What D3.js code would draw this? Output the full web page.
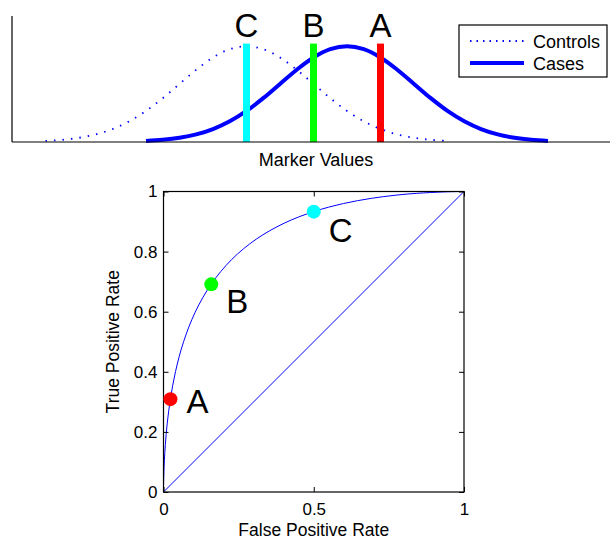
<!DOCTYPE html>
<html>
<head>
<meta charset="utf-8">
<script src="https://cdn.jsdelivr.net/npm/d3@7"></script>
<style>
body { margin: 0; background: #fff; }
svg { font-family: "Liberation Sans", Arial, Helvetica, sans-serif; }
</style>
</head>
<body>
<div id="vis"></div>
<script>
'use strict';

//marker value distributions
var controlsX = [-3, -2.75, -2.5, -2.25, -2, -1.75, -1.5, -1.25, -1, -0.75, -0.5, -0.25, 0,
    0.25, 0.5, 0.75, 1, 1.25, 1.5, 1.75, 2, 2.25, 2.5, 2.75, 3];
var controlsDensity = [0.0044, 0.0091, 0.0175, 0.0317, 0.054, 0.0863, 0.1295, 0.1826, 0.242, 0.3011, 0.3521, 0.3867, 0.3989,
    0.3867, 0.3521, 0.3011, 0.242, 0.1826, 0.1295, 0.0863, 0.054, 0.0317, 0.0175, 0.0091, 0.0044];
var casesX = [-1.5, -1.25, -1, -0.75, -0.5, -0.25, 0, 0.25, 0.5, 0.75, 1, 1.25, 1.5,
    1.75, 2, 2.25, 2.5, 2.75, 3, 3.25, 3.5, 3.75, 4, 4.25, 4.5];
var casesDensity = [0.0044, 0.0091, 0.0175, 0.0317, 0.054, 0.0863, 0.1295, 0.1826, 0.242, 0.3011, 0.3521, 0.3867, 0.3989,
    0.3867, 0.3521, 0.3011, 0.242, 0.1826, 0.1295, 0.0863, 0.054, 0.0317, 0.0175, 0.0091, 0.0044];

//cut-off markers
var markerNames = ['A', 'B', 'C'];
var markerThresholds = [2, 1, 0];
var markerColors = ['#ff0000', '#00ff00', '#00ffff'];
var markerFpr = [0.023, 0.159, 0.5];
var markerTpr = [0.309, 0.691, 0.933];

//roc curve
var rocFpr = [0, 0, 0.00003, 0.0002, 0.0006, 0.0013, 0.003, 0.0062, 0.0122, 0.0228, 0.0401, 0.0668, 0.1056,
    0.1587, 0.2266, 0.3085, 0.4013, 0.5, 0.5987, 0.6915, 0.7734, 0.8413, 0.9332, 0.9772, 0.9987, 1];
var rocTpr = [0, 0.0013, 0.0062, 0.0228, 0.0401, 0.0668, 0.1056, 0.1587, 0.2266, 0.3085, 0.4013, 0.5, 0.5987,
    0.6915, 0.7734, 0.8413, 0.8944, 0.9332, 0.9599, 0.9772, 0.9878, 0.9938, 0.99865, 0.99977, 1, 1];
var rocTicksX = [0, 0.5, 1];
var rocTicksY = [0, 0.2, 0.4, 0.6, 0.8, 1];

var legendNames = ['Controls', 'Cases'];

var svg = d3.select('#vis').append('svg')
    .attr('width', 610)
    .attr('height', 542);

//---- top panel: distributions
var dist = { left: 12, right: 620, top: 16, bottom: 142 };
var x = d3.scaleLinear().domain([-3.5, 5.5]).range([dist.left, dist.left + 603]);
var y = d3.scaleLinear().domain([0, 0.525]).range([dist.bottom, dist.top]);

var curve = d3.line()
    .x(function (d) { return x(d[0]); })
    .y(function (d) { return y(d[1]); })
    .curve(d3.curveCatmullRom);

svg.append('path')
    .datum(d3.zip(controlsX, controlsDensity))
    .attr('d', curve)
    .attr('fill', 'none')
    .attr('stroke', '#0000ff')
    .attr('stroke-width', 1.8)
    .attr('stroke-dasharray', '1.5 7');

svg.append('path')
    .datum(d3.zip(casesX, casesDensity))
    .attr('d', curve)
    .attr('fill', 'none')
    .attr('stroke', '#0000ff')
    .attr('stroke-width', 4);

//vertical cut-off bars and their letters
markerNames.forEach(function (name, i) {
    svg.append('line')
        .attr('x1', x(markerThresholds[i]))
        .attr('x2', x(markerThresholds[i]))
        .attr('y1', y(0))
        .attr('y2', y(0.41))
        .attr('stroke', markerColors[i])
        .attr('stroke-width', 7);
    svg.append('text')
        .text(name)
        .attr('x', x(markerThresholds[i]))
        .attr('y', 37)
        .attr('text-anchor', 'middle')
        .style('font-size', '33px');
});

//axis lines (no ticks on this panel)
svg.append('line')
    .attr('x1', dist.left).attr('x2', dist.right)
    .attr('y1', dist.bottom).attr('y2', dist.bottom)
    .attr('stroke', '#000').attr('stroke-width', 1.2);
svg.append('line')
    .attr('x1', dist.left).attr('x2', dist.left)
    .attr('y1', dist.top).attr('y2', dist.bottom)
    .attr('stroke', '#000').attr('stroke-width', 1.2);

svg.append('text')
    .text('Marker Values')
    .attr('x', (dist.left + dist.right) / 2)
    .attr('y', 166)
    .attr('text-anchor', 'middle')
    .style('font-size', '18px');

//legend
var legend = svg.append('g').attr('transform', 'translate(459,25)');
legend.append('rect')
    .attr('width', 148).attr('height', 52)
    .attr('fill', '#fff').attr('stroke', '#000').attr('stroke-width', 1.2);
legendNames.forEach(function (name, i) {
    var ly = 16 + i * 22;
    legend.append('line')
        .attr('x1', 11).attr('x2', 65)
        .attr('y1', ly).attr('y2', ly)
        .attr('stroke', '#0000ff')
        .attr('stroke-width', i === 0 ? 1.8 : 4)
        .attr('stroke-dasharray', i === 0 ? '1.5 5' : null);
    legend.append('text')
        .text(name)
        .attr('x', 74)
        .attr('y', ly + 6.5)
        .style('font-size', '18px');
});

//---- bottom panel: roc
var box = { left: 163.5, right: 464, top: 191.5, bottom: 492 };
var fx = d3.scaleLinear().domain([0, 1]).range([box.left, box.right]);
var fy = d3.scaleLinear().domain([0, 1]).range([box.bottom, box.top]);

var roc = svg.append('g');

roc.append('line')
    .attr('x1', fx(0)).attr('y1', fy(0))
    .attr('x2', fx(1)).attr('y2', fy(1))
    .attr('stroke', '#0000ff').attr('stroke-width', 1);

roc.append('path')
    .datum(d3.zip(rocFpr, rocTpr))
    .attr('d', d3.line()
        .x(function (d) { return fx(d[0]); })
        .y(function (d) { return fy(d[1]); })
        .curve(d3.curveCatmullRom.alpha(0.5)))
    .attr('fill', 'none')
    .attr('stroke', '#0000ff')
    .attr('stroke-width', 1);

//axes with inward ticks, mirrored on top and right
function styleAxis(g) {
    g.select('.domain').remove();
    g.selectAll('.tick line').attr('stroke', '#000');
    g.selectAll('.tick text').style('font-size', '17px').attr('fill', '#000')
        .style('font-family', '"Liberation Sans", Arial, sans-serif');
}
var fmt = function (d) { return String(d); };
roc.append('g')
    .attr('transform', 'translate(0,' + box.bottom + ')')
    .call(d3.axisBottom(fx).tickValues(rocTicksX).tickFormat(fmt).tickSizeInner(-5).tickSizeOuter(0).tickPadding(11))
    .call(styleAxis);
roc.append('g')
    .attr('transform', 'translate(0,' + box.top + ')')
    .call(d3.axisTop(fx).tickValues(rocTicksX).tickFormat('').tickSizeInner(-5).tickSizeOuter(0))
    .call(styleAxis);
roc.append('g')
    .attr('transform', 'translate(' + box.left + ',0)')
    .call(d3.axisLeft(fy).tickValues(rocTicksY).tickFormat(fmt).tickSizeInner(-5).tickSizeOuter(0).tickPadding(6))
    .call(styleAxis);
roc.append('g')
    .attr('transform', 'translate(' + box.right + ',0)')
    .call(d3.axisRight(fy).tickValues(rocTicksY).tickFormat('').tickSizeInner(-5).tickSizeOuter(0))
    .call(styleAxis);

roc.append('rect')
    .attr('x', box.left).attr('y', box.top)
    .attr('width', box.right - box.left).attr('height', box.bottom - box.top)
    .attr('fill', 'none').attr('stroke', '#000').attr('stroke-width', 1.2);

//operating points
var labelOffsets = [[16, 14], [15, 29], [15, 30]];
markerNames.forEach(function (name, i) {
    roc.append('circle')
        .attr('cx', fx(markerFpr[i]))
        .attr('cy', fy(markerTpr[i]))
        .attr('r', 7)
        .attr('fill', markerColors[i]);
    roc.append('text')
        .text(name)
        .attr('x', fx(markerFpr[i]) + labelOffsets[i][0])
        .attr('y', fy(markerTpr[i]) + labelOffsets[i][1])
        .style('font-size', '33px');
});

roc.append('text')
    .text('False Positive Rate')
    .attr('x', (box.left + box.right) / 2)
    .attr('y', 536)
    .attr('text-anchor', 'middle')
    .style('font-size', '17.5px');
roc.append('text')
    .text('True Positive Rate')
    .attr('transform', 'translate(119,' + (box.top + box.bottom) / 2 + ') rotate(-90)')
    .attr('text-anchor', 'middle')
    .style('font-size', '17.5px');
</script>
</body>
</html>
